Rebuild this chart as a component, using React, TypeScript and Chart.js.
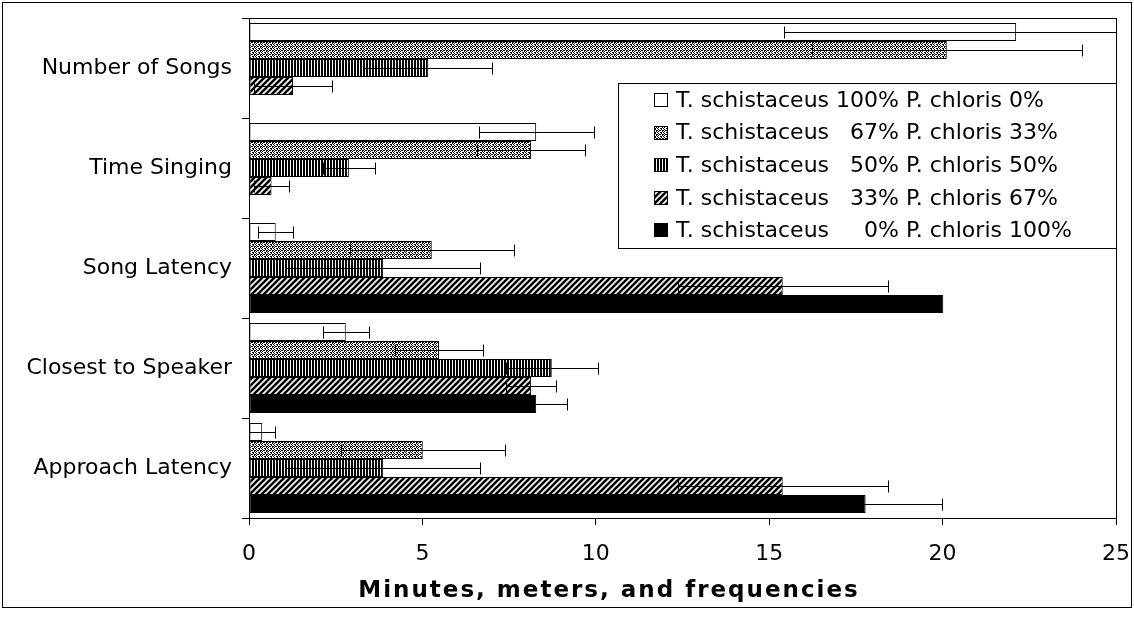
import { useEffect, useRef } from "react";
import { Chart, registerables } from "chart.js";

Chart.register(...registerables);

const categories = ["Number of Songs", "Time Singing", "Song Latency", "Closest to Speaker", "Approach Latency"];
const seriesLabels = [
  "T. schistaceus 100% P. chloris 0%",
  "T. schistaceus   67% P. chloris 33%",
  "T. schistaceus   50% P. chloris 50%",
  "T. schistaceus   33% P. chloris 67%",
  "T. schistaceus     0% P. chloris 100%",
];
const ts100 = [22.12, 8.28, 0.77, 2.79, 0.38];
const ts67 = [20.12, 8.13, 5.27, 5.48, 5.01];
const ts50 = [5.17, 2.88, 3.87, 8.73, 3.87];
const ts33 = [1.27, 0.65, 15.39, 8.13, 15.39];
const ts0 = [null, null, 20.02, 8.28, 17.78];
const err100 = [6.68, 1.66, 0.5, 0.67, 0.38];
const err67 = [3.89, 1.56, 2.36, 1.26, 2.37];
const err50 = [1.84, 0.76, 2.8, 1.33, 2.8];
const err33 = [1.13, 0.5, 3.03, 0.71, 3.03];
const err0 = [null, null, 0, 0.9, 2.21];
const xTicks = [0, 5, 10, 15, 20, 25];
const xTitle = "Minutes, meters, and frequencies";

const FONT = "'DejaVu Sans', Verdana, sans-serif";

function bitmapPattern(ctx: CanvasRenderingContext2D, rows: string[]) {
  const c = document.createElement("canvas");
  c.width = rows[0].length;
  c.height = rows.length;
  const g = c.getContext("2d")!;
  g.fillStyle = "#fff";
  g.fillRect(0, 0, c.width, c.height);
  g.fillStyle = "#000";
  rows.forEach((r, y) => {
    for (let x = 0; x < r.length; x++) if (r[x] === "X") g.fillRect(x, y, 1, 1);
  });
  return ctx.createPattern(c, "repeat")!;
}

function hatchPattern(ctx: CanvasRenderingContext2D) {
  const s = 6;
  const c = document.createElement("canvas");
  c.width = s;
  c.height = s;
  const g = c.getContext("2d")!;
  g.fillStyle = "#fff";
  g.fillRect(0, 0, s, s);
  g.strokeStyle = "#000";
  g.lineWidth = 2.6;
  g.beginPath();
  for (const o of [-s, 0, s]) {
    g.moveTo(o - 1, s + 1);
    g.lineTo(o + s + 1, -1);
  }
  g.stroke();
  return ctx.createPattern(c, "repeat")!;
}

export default function App() {
  const ref = useRef<HTMLCanvasElement>(null);

  useEffect(() => {
    const ctx = ref.current!.getContext("2d")!;
    const stipple = bitmapPattern(ctx, [
      "XX.X..",
      ".X..X.",
      "X.XX.X",
      "..X.X.",
    ]);
    const vstripe = bitmapPattern(ctx, ["XX."]);
    const hatch = hatchPattern(ctx);
    const fills: (string | CanvasPattern)[] = ["#ffffff", stipple, vstripe, hatch, "#000000"];
    const values = [ts100, ts67, ts50, ts33, ts0];
    const errors = [err100, err67, err50, err33, err0];

    const errorBars = {
      id: "errorBars",
      afterDatasetsDraw(chart: any) {
        const { ctx: c, chartArea: a, scales } = chart;
        const xs = scales.x;
        c.save();
        c.beginPath();
        c.rect(a.left, a.top, a.right - a.left + 1, a.bottom - a.top);
        c.clip();
        c.strokeStyle = "#000";
        c.lineWidth = 1;
        errors.forEach((errs, di) => {
          const meta = chart.getDatasetMeta(di);
          meta.data.forEach((bar: any, i: number) => {
            const v = values[di][i];
            const e = errs[i];
            if (v == null || !e) return;
            const y = Math.round(bar.y) + 0.5;
            const x1 = Math.round(xs.getPixelForValue(v - e)) + 0.5;
            const x2 = Math.round(xs.getPixelForValue(v + e)) + 0.5;
            c.beginPath();
            c.moveTo(x1, y);
            c.lineTo(x2, y);
            c.moveTo(x1, y - 6);
            c.lineTo(x1, y + 6);
            c.moveTo(x2, y - 6);
            c.lineTo(x2, y + 6);
            c.stroke();
          });
        });
        c.restore();
      },
    };

    const frameAndLegend = {
      id: "frameAndLegend",
      afterDraw(chart: any) {
        const { ctx: c, chartArea: a } = chart;
        c.save();
        c.strokeStyle = "#000";
        c.lineWidth = 1;
        c.strokeRect(Math.round(a.left) + 0.5, Math.round(a.top) + 0.5, Math.round(a.right - a.left), Math.round(a.bottom - a.top));
        // legend
        const lx = 618.5, ly = 83.5, lw = Math.round(a.right) - 618, lh = 165;
        c.fillStyle = "#fff";
        c.fillRect(lx, ly, lw, lh);
        c.strokeRect(lx, ly, lw, lh);
        c.font = `22px ${FONT}`;
        c.textBaseline = "middle";
        c.textAlign = "left";
        chart.data.datasets.forEach((ds: any, i: number) => {
          const cy = 100 + i * 32.6;
          const sy = Math.round(cy - 7);
          c.fillStyle = ds.backgroundColor;
          c.fillRect(654, sy, 14, 14);
          c.strokeRect(654.5, sy + 0.5, 13, 13);
          c.fillStyle = "#000";
          c.fillText(ds.label, 676, cy + 1);
        });
        // axis title
        c.font = `bold 23px ${FONT}`;
        c.textAlign = "center";
        (c as any).letterSpacing = "2px";
        c.fillText(xTitle, 609, 591);
        c.restore();
      },
    };

    const chart = new Chart(ctx, {
      type: "bar",
      data: {
        labels: categories,
        datasets: values.map((vals, i) => ({
          label: seriesLabels[i],
          data: vals,
          backgroundColor: fills[i] as any,
          borderColor: "#000",
          borderWidth: 1,
          borderSkipped: false,
          categoryPercentage: 0.9,
          barPercentage: 1,
        })),
      },
      options: {
        indexAxis: "y",
        responsive: false,
        animation: false,
        events: [],
        layout: { padding: { left: 0, right: 18, top: 18, bottom: 0 } },
        plugins: { legend: { display: false }, tooltip: { enabled: false } },
        scales: {
          x: {
            type: "linear",
            min: 0,
            max: 25,
            afterBuildTicks: (s: any) => {
              s.ticks = xTicks.map((v) => ({ value: v }));
            },
            ticks: { color: "#000", font: { family: FONT, size: 22 }, padding: 16 },
            grid: { drawOnChartArea: false, tickLength: 7, color: "#000", tickColor: "#000" },
            border: { color: "#000" },
            afterFit: (s: any) => {
              s.height = 106;
              s.paddingLeft = 0;
              s.paddingRight = 0;
            },
          },
          y: {
            ticks: { color: "#000", font: { family: FONT, size: 22 }, padding: 10 },
            grid: { drawOnChartArea: false, tickLength: 7, offset: true, color: "#000", tickColor: "#000" },
            border: { color: "#000" },
            afterFit: (s: any) => {
              s.width = 249;
              s.paddingTop = 0;
              s.paddingBottom = 0;
            },
          },
        },
      } as any,
      plugins: [errorBars, frameAndLegend],
    });
    return () => chart.destroy();
  }, []);

  return (
    <div style={{ position: "fixed", left: 0, top: 0, width: 1134, height: 624, background: "#fff" }}>
      <div
        style={{
          position: "absolute",
          left: 2,
          top: 2,
          width: 1130,
          height: 606,
          border: "1px solid #000",
          boxSizing: "border-box",
        }}
      />
      <canvas ref={ref} width={1134} height={624} style={{ position: "absolute", left: 0, top: 0 }} />
    </div>
  );
}
